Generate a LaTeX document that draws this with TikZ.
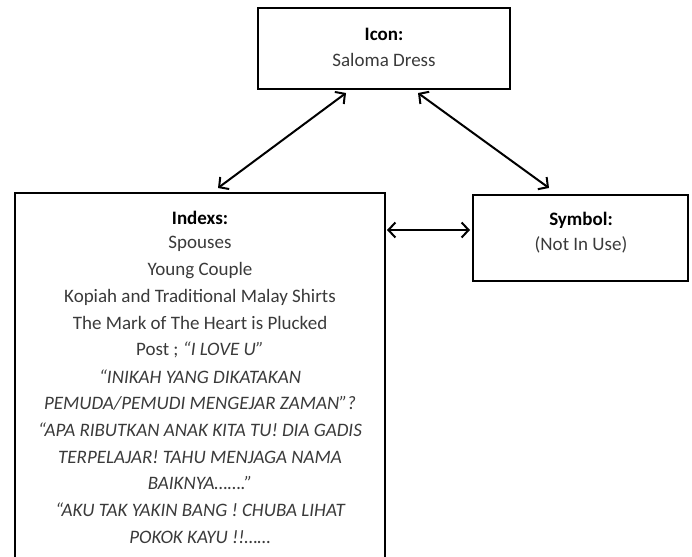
\documentclass[tikz,border=0pt]{standalone}
\usepackage{fontspec}
\setmainfont{Carlito}
\usetikzlibrary{arrows.meta}
\definecolor{txt}{HTML}{3A3A3A}
\begin{document}
\begin{tikzpicture}[x=1pt,y=-1pt,
  box/.style={draw=black,line width=2pt,rectangle,inner sep=0pt},
  hd/.style={font=\fontsize{19}{22}\selectfont\bfseries,text=black,inner sep=0pt,anchor=center},
  tx/.style={font=\fontsize{19}{22}\selectfont,text=txt,inner sep=0pt,anchor=center},
  it/.style={font=\fontsize{19}{22}\selectfont\itshape,text=txt,inner sep=0pt,anchor=center},
  link/.style={line width=2pt,{Straight Barb[length=7pt,width=15pt]}-{Straight Barb[length=7pt,width=15pt]}}]
\useasboundingbox (0,0) rectangle (692,556);
\node[box,minimum width=252pt,minimum height=81pt] (icon) at (384,49) {};
\node[box,minimum width=370pt,minimum height=370pt] (idx) at (200,378) {};
\node[box,minimum width=215pt,minimum height=86pt] (sym) at (580.5,238) {};
\node[hd] (iconh) at (384,34) {Icon:};
\node[tx] (icont) at (384,60) {Saloma Dress};
\node[hd] (symh) at (581,220) {Symbol:};
\node[tx] (symt) at (581,245) {(Not In Use)};
\node[hd] (idxh) at (200,218) {Indexs:};
\node[tx] (l1) at (200,244) {Spouses};
\node[tx] (l2) at (200,271) {Young Couple};
\node[tx] (l3) at (200,297) {Kopiah and Traditional Malay Shirts};
\node[tx] (l4) at (200,323) {The Mark of The Heart is Plucked};
\node[tx] (l5) at (200,350) {Post ; \textit{“I LOVE U”}};
\node[it] (l6) at (200,377) {“INIKAH YANG DIKATAKAN};
\node[it] (l7) at (200,403) {PEMUDA/PEMUDI MENGEJAR ZAMAN”?};
\node[it] (l8) at (200,430) {“APA RIBUTKAN ANAK KITA TU! DIA GADIS};
\node[it] (l9) at (200,457) {TERPELAJAR! TAHU MENJAGA NAMA};
\node[it] (l10) at (200,483) {BAIKNYA…….”};
\node[it] (l11) at (200,510) {“AKU TAK YAKIN BANG ! CHUBA LIHAT};
\node[it] (l12) at (200,537) {POKOK KAYU !!……};
\coordinate (a1) at (218,188);
\coordinate (a2) at (346,93);
\coordinate (b1) at (418,93);
\coordinate (b2) at (549,188);
\coordinate (c1) at (387,230);
\coordinate (c2) at (470,230);
\draw[link] (a1) -- (a2);
\draw[link] (b1) -- (b2);
\draw[link] (c1) -- (c2);
\end{tikzpicture}
\end{document}
